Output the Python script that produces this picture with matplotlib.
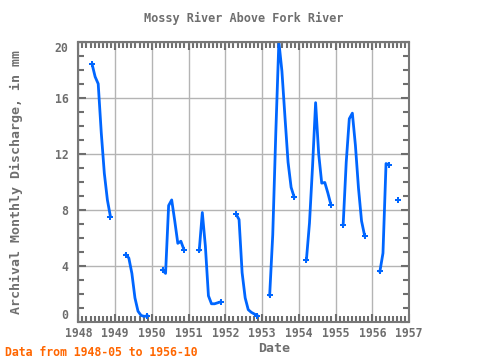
import numpy as np
import matplotlib
matplotlib.use("Agg")
import matplotlib.pyplot as plt
from matplotlib.ticker import MultipleLocator

title = "Mossy River Above Fork River"
xlabel = "Date"
ylabel = "Archival Monthly Discharge, in mm"
note = "Data from 1948-05 to 1956-10"

# monthly series, NaN = missing
nan = np.nan
years = [1948, 1949, 1950, 1951, 1952, 1953, 1954, 1955, 1956]
# values Jan..Dec for each year
v1948 = [nan, nan, nan, nan, 18.4, 17.5, 17.0, 13.5, 10.6, 8.7, 7.5, nan]
v1949 = [nan, nan, nan, 4.8, 4.55, 3.45, 1.7, 0.75, 0.45, 0.38, 0.42, nan]
v1950 = [nan, nan, nan, 3.7, 3.45, 8.3, 8.7, 7.2, 5.6, 5.75, 5.15, nan]
v1951 = [nan, nan, nan, 5.1, 7.8, 5.4, 1.85, 1.28, 1.28, 1.35, 1.42, nan]
v1952 = [nan, nan, nan, 7.7, 7.3, 3.5, 1.7, 0.86, 0.67, 0.55, 0.43, nan]
v1953 = [nan, nan, 1.9, 6.2, 13.5, 20.0, 17.9, 14.6, 11.4, 9.6, 8.9, nan]
v1954 = [nan, nan, 4.43, 7.05, 11.1, 15.65, 12.0, 9.9, 9.95, 9.2, 8.36, nan]
v1955 = [nan, nan, 6.93, 11.4, 14.5, 14.9, 12.6, 9.55, 7.2, 6.15, nan, nan]
v1956 = [nan, nan, 3.6, 4.9, 11.3, 11.2, nan, nan, 8.7, nan, nan, nan]

series = [v1948, v1949, v1950, v1951, v1952, v1953, v1954, v1955, v1956]
x = []
y = []
for yr, vals in zip(years, series):
    for m, v in enumerate(vals, start=1):
        x.append(yr + (m - 0.5) / 12.0)
        y.append(v)
x = np.array(x)
y = np.array(y)

# segment end points (a valid value next to a missing one)
valid = ~np.isnan(y)
prev_nan = np.concatenate([[True], ~valid[:-1]])
next_nan = np.concatenate([~valid[1:], [True]])
ends = valid & (prev_nan | next_nan)

xticks = list(range(1948, 1958))
yticks = [0, 4, 8, 12, 16, 20]

grey = "#6e6e6e"
blue = "#0066ff"
font = "DejaVu Sans Mono"

fig = plt.figure(figsize=(4.8, 3.6), dpi=100)
ax = fig.add_axes([78.3 / 480, (360 - 321.7) / 360, (409 - 78.3) / 480, (321.7 - 41.8) / 360])

ax.plot(x, y, color=blue, lw=2.0)
ax.plot(x[ends], y[ends], ls="none", color=blue, marker="P", markersize=4.5, markeredgewidth=0)

ax.set_xlim(1948, 1957)
ax.set_ylim(0, 20)
ax.set_xticks(xticks)
ax.set_yticks(yticks)
ax.xaxis.set_minor_locator(MultipleLocator(1 / 9))
ax.yaxis.set_minor_locator(MultipleLocator(1))
ax.grid(True, which="major", color="#b4b4b4", lw=1.0)
ax.set_axisbelow(True)

ax.tick_params(which="both", direction="in", top=True, right=True, colors=grey,
               labelsize=8.3, width=1.5)
ax.tick_params(which="major", length=6)
ax.tick_params(which="minor", length=4)
ax.tick_params(axis="x", pad=4)
ax.tick_params(axis="y", pad=7)
for lab in ax.get_xticklabels() + ax.get_yticklabels():
    lab.set_family(font)
    lab.set_fontweight("bold")
    lab.set_color(grey)
yt = ax.yaxis.get_major_ticks()
yt[0].label1.set_verticalalignment("bottom")
yt[-1].label1.set_verticalalignment("top")
for s in ax.spines.values():
    s.set_color("#777777")
    s.set_linewidth(1.5)

ax.set_title(title, family=font, fontweight="bold", fontsize=8.6, color=grey, pad=14)
ax.set_ylabel(ylabel, family=font, fontweight="bold", fontsize=9.5, color=grey)
ax.yaxis.set_label_coords(-55.0 / 330.7, 0.5)
fig.text(274 / 480, 1 - 348 / 360, xlabel, family=font, fontweight="bold", fontsize=9.5,
         color=grey, ha="center", va="center")
fig.text(5 / 480, 1 - 352 / 360, note, family=font, fontweight="bold", fontsize=8.3,
         color="#ff6600", ha="left", va="center")

fig.savefig("out.png", dpi=100)
